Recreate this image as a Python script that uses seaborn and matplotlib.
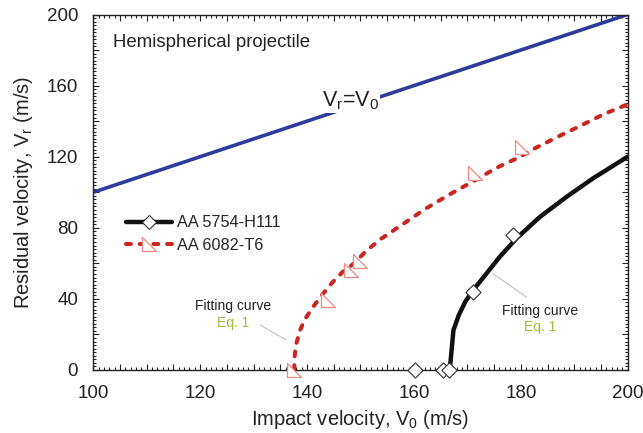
import matplotlib
matplotlib.use("Agg")
import matplotlib.pyplot as plt
import pandas as pd
import seaborn as sns
from matplotlib.path import Path
from matplotlib.lines import Line2D
from matplotlib.ticker import MultipleLocator, FuncFormatter

# Measured impact / residual velocities
aa5754_v0 = [160.2, 165.4, 166.6, 171.1, 178.5]
aa5754_vr = [0.0, 0.0, 0.0, 44.1, 75.9]
aa6082_v0 = [137.6, 143.9, 148.3, 150.0, 171.5, 180.2]
aa6082_vr = [0.0, 39.4, 56.0, 61.3, 110.7, 125.2]

# Fitting curves (Eq. 1)
fit5754_v0 = [166.7, 167.4, 168.4, 169.6, 171.1, 173.6, 176.1, 179.2, 183.6, 188.6, 193.6, 200.0]
fit5754_vr = [0.0, 22.5, 30.9, 38.4, 45.0, 54.4, 63.8, 74.1, 86.2, 97.5, 108.0, 120.0]
fit6082_v0 = [137.6, 137.65, 137.9, 138.7, 139.6, 141.0, 142.9, 144.6, 146.6, 148.8, 151.0,
              153.7, 157.7, 162.1, 166.8, 171.2, 175.5, 179.9, 182.3, 186.7, 191.1, 195.5, 200.0]
fit6082_vr = [0.0, 7.0, 14.0, 22.5, 28.5, 35.0, 42.6, 48.8, 55.0, 60.0, 66.8,
              73.5, 81.6, 90.6, 99.0, 106.3, 113.8, 120.0, 124.2, 130.9, 137.3, 143.9, 149.5]

# Reference line Vr = V0
ref_v0 = [100.0, 200.0]
ref_vr = [100.0, 200.0]

sns.set_theme(style="ticks")
plt.rcParams["font.family"] = ["Liberation Sans", "DejaVu Sans"]
plt.rcParams["mathtext.fontset"] = "custom"
plt.rcParams["mathtext.rm"] = "Liberation Sans"
plt.rcParams["mathtext.it"] = "Liberation Sans"
plt.rcParams["mathtext.bf"] = "Liberation Sans:bold"

BLUE = "#2e3b98"
RED = "#cc2420"
RED_EDGE = "#ee8a86"
GREEN = "#9cbf3a"

# right triangle with the right angle at the lower left
tri = Path([(-1, 1), (-1, -1), (1, -1), (-1, 1)],
           [Path.MOVETO, Path.LINETO, Path.LINETO, Path.CLOSEPOLY])

fig = plt.figure(figsize=(6.43, 4.33), dpi=100)
ax = fig.add_axes([0.1451, 0.1455, 0.8311, 0.8210])

ref = pd.DataFrame({"v0": ref_v0, "vr": ref_vr})
f1 = pd.DataFrame({"v0": fit5754_v0, "vr": fit5754_vr})
f2 = pd.DataFrame({"v0": fit6082_v0, "vr": fit6082_vr})
d1 = pd.DataFrame({"v0": aa5754_v0, "vr": aa5754_vr})
d2 = pd.DataFrame({"v0": aa6082_v0, "vr": aa6082_vr})

sns.lineplot(data=ref, x="v0", y="vr", ax=ax, color=BLUE, lw=2.6, sort=False, zorder=2)
sns.lineplot(data=f2, x="v0", y="vr", ax=ax, color=RED, lw=2.9, sort=False, zorder=3,
             linestyle=(0, (1.2, 2.2)), dash_capstyle="round")
sns.lineplot(data=f1, x="v0", y="vr", ax=ax, color="#111111", lw=3.2, sort=False, zorder=3,
             solid_joinstyle="round")
sns.scatterplot(data=d2, x="v0", y="vr", ax=ax, marker=tri, s=110, facecolor="white",
                edgecolor=RED_EDGE, linewidth=0.9, zorder=4, clip_on=False)
sns.scatterplot(data=d1, x="v0", y="vr", ax=ax, marker="D", s=60, facecolor="white",
                edgecolor="#333333", linewidth=0.8, zorder=5, clip_on=False)

ax.set_xlim(100, 200)
ax.set_ylim(0, 200)

ax.xaxis.set_major_locator(MultipleLocator(5))
ax.xaxis.set_minor_locator(MultipleLocator(1))
ax.yaxis.set_major_locator(MultipleLocator(20))
ax.yaxis.set_minor_locator(MultipleLocator(2))
ax.xaxis.set_major_formatter(FuncFormatter(lambda v, p: f"{v:.0f}" if round(v) % 20 == 0 else ""))
ax.yaxis.set_major_formatter(FuncFormatter(lambda v, p: f"{v:.0f}" if round(v) % 40 == 0 else ""))
ax.tick_params(which="both", direction="in", top=True, right=True, colors="#222222",
               labelsize=13.5, width=0.8)
ax.tick_params(which="major", length=4.5, pad=11)
ax.tick_params(which="minor", length=2.4)
for s in ax.spines.values():
    s.set_linewidth(1.0)
    s.set_color("#222222")

ax.set_xlabel("Impact velocity, V$_0$ (m/s)", fontsize=14.5, labelpad=4, color="#222222")
ax.set_ylabel("Residual velocity, V$_r$ (m/s)", fontsize=14.5, labelpad=8, color="#222222")

ax.text(103.6, 184.1, "Hemispherical projectile", fontsize=13.4, va="center", ha="left",
        color="#222222")
ax.text(148.1, 151.5, "V$_r$=V$_0$", fontsize=15.5, ha="center", va="center", color="#222222",
        zorder=6, bbox=dict(facecolor="white", edgecolor="none", pad=0.5))

# annotations for the fitting curves
ax.text(126.2, 36.2, "Fitting curve", fontsize=10, ha="center", va="center", color="#222222")
ax.text(126.2, 26.6, "Eq. 1", fontsize=10, ha="center", va="center", color=GREEN)
ax.plot([131.2, 136.1], [25.3, 16.9], color="#bbbbbb", lw=0.7)
ax.text(183.6, 33.4, "Fitting curve", fontsize=10, ha="center", va="center", color="#222222")
ax.text(183.6, 24.4, "Eq. 1", fontsize=10, ha="center", va="center", color=GREEN)
ax.plot([174.7, 181.1], [54.4, 40.9], color="#bbbbbb", lw=0.7)

handles = [
    Line2D([], [], color="#111111", lw=3.2, marker="D", markersize=7.5,
           markerfacecolor="white", markeredgecolor="#333333", markeredgewidth=0.8),
    Line2D([], [], color=RED, lw=2.9, linestyle=(0, (1.2, 2.2)), dash_capstyle="round",
           marker=tri, markersize=10, markerfacecolor="white", markeredgecolor=RED_EDGE,
           markeredgewidth=0.9),
]
ax.legend(handles, ["AA 5754-H111", "AA 6082-T6"], loc="upper left",
          bbox_to_anchor=(0.062, 0.435), frameon=False, fontsize=11.7, handlelength=2.8,
          handletextpad=0.3, labelspacing=0.45, borderpad=0, borderaxespad=0)

fig.savefig("out.png", dpi=100)
